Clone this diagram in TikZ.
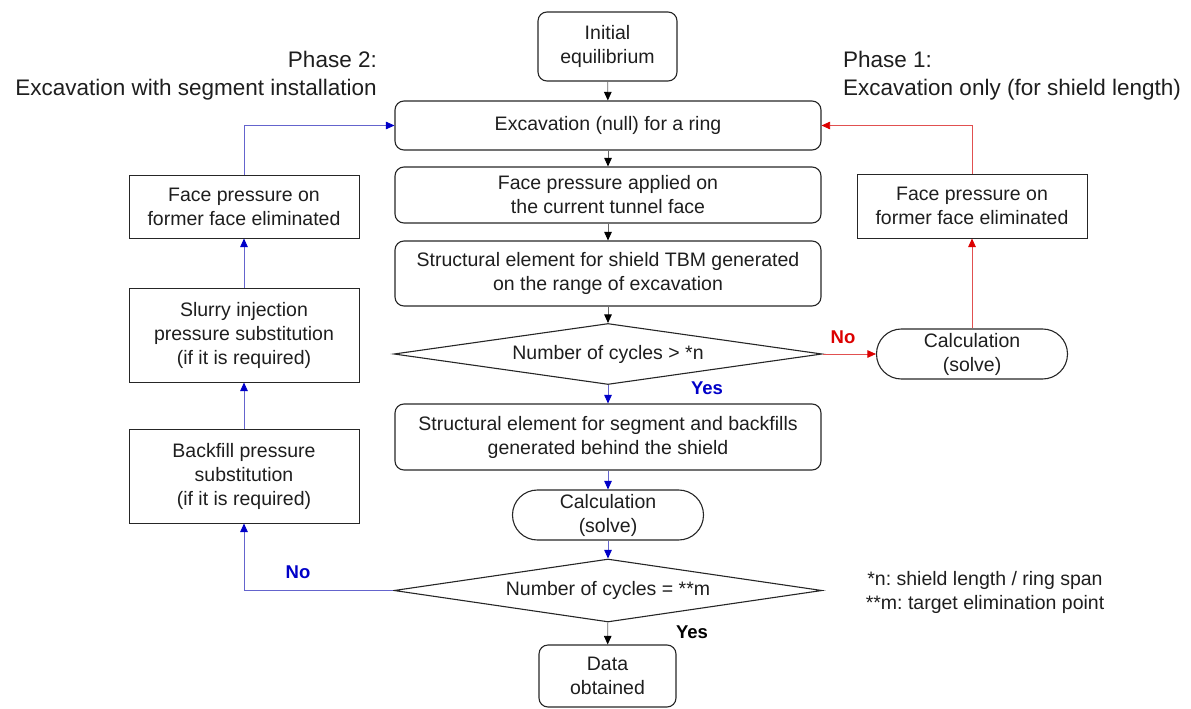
\documentclass[tikz,border=0pt]{standalone}
\usepackage{fontspec}
\setmainfont{Liberation Sans}
\usetikzlibrary{arrows.meta,shapes.geometric}
\definecolor{tblue}{RGB}{0,0,200}
\definecolor{tred}{RGB}{220,0,0}
\definecolor{lblue}{RGB}{100,100,205}
\definecolor{lred}{RGB}{225,80,80}
\definecolor{txt}{RGB}{30,30,30}
\frenchspacing
\newcommand{\mainfs}{\fontsize{19.5}{24}\selectfont}
\newcommand{\phasefs}{\fontsize{22.5}{28}\selectfont}
\newcommand{\labfs}{\fontsize{18.5}{22}\selectfont\bfseries}
\tikzset{
  rbox/.style={draw=black!85, line width=1.1pt, rounded corners=9pt, align=center,
    font=\mainfs, text=txt, inner sep=0pt},
  wbox/.style={rbox, minimum width=426pt},
  sbox/.style={draw=black!85, line width=1pt, align=center, font=\mainfs, text=txt,
    minimum width=230pt, inner sep=0pt},
  term/.style={draw=black!85, line width=1.1pt, rounded corners=24.9pt, align=center,
    font=\mainfs, text=txt, minimum width=191pt, minimum height=50pt, inner sep=0pt},
  decision/.style={diamond, draw=black!85, line width=1.1pt, shape aspect=7.1,
    minimum width=428pt, minimum height=61pt, inner sep=0pt, font=\mainfs, text=txt},
  karr/.style={draw=black!60, line width=0.8pt, -{Triangle[length=8.5pt,width=7.5pt,color=black]}},
  barr/.style={draw=lblue, line width=0.8pt, -{Triangle[length=8.5pt,width=7.5pt,color=tblue]}},
  rarr/.style={draw=lred, line width=0.8pt, -{Triangle[length=8.5pt,width=7.5pt,color=tred]}},
  phase/.style={font=\phasefs, text=txt, inner sep=0pt},
  lab/.style={font=\labfs, inner sep=0pt}
}
\begin{document}
\begin{tikzpicture}[x=1pt,y=-1pt]
\useasboundingbox (0,0) rectangle (1191,709);
% main column
\node[rbox, minimum width=139pt, minimum height=69pt] (init) at (607.5,46.5) {Initial\\equilibrium};
\node[wbox, minimum height=49pt] (exc) at (608,125.5) {Excavation (null) for a ring};
\node[wbox, minimum height=56pt] (face) at (608,195) {Face pressure applied on\\the current tunnel face};
\node[wbox, minimum height=65pt] (shield) at (608,273.5) {Structural element for shield TBM generated\\on the range of excavation};
\node[decision] (d1) at (608,354) {Number of cycles > *n};
\node[wbox, minimum height=66pt] (seg) at (608,437) {Structural element for segment and backfills\\generated behind the shield};
\node[term] (calc) at (608,515) {Calculation\\(solve)};
\node[decision, minimum height=63pt] (d2) at (608,590.5) {Number of cycles = **m};
\node[rbox, minimum width=137pt, minimum height=62pt] (data) at (607.5,676) {Data\\obtained};
% right column
\node[sbox, minimum height=64pt] (rface) at (972,206) {Face pressure on\\former face eliminated};
\node[term] (rcalc) at (972,354) {Calculation\\(solve)};
% left column
\node[sbox, minimum height=63pt] (lface) at (244,206.5) {Face pressure on\\former face eliminated};
\node[sbox, minimum height=94pt] (slurry) at (244,335) {Slurry injection\\pressure substitution\\(if it is required)};
\node[sbox, minimum height=94pt] (back) at (244,476) {Backfill pressure\\substitution\\(if it is required)};
% phase labels
\node[phase, align=right, anchor=east] (p2) at (377,76) {Phase 2:\\Excavation with segment installation};
\node[phase, align=left, anchor=west] (p1) at (843,76) {Phase 1:\\Excavation only (for shield length)};
\node[font=\mainfs, text=txt, align=center, inner sep=0pt] (notes) at (985,592) {*n: shield length / ring span\\**m: target elimination point};
% labels
\node[lab, text=tblue] (yes1) at (707,388) {Yes};
\node[lab, text=tred] (no1) at (843,337) {No};
\node[lab, text=tblue] (no2) at (298,572) {No};
\node[lab, text=black] (yes2) at (692,632) {Yes};
% connectors
\draw[karr] (init) -- (exc);
\draw[karr] (exc) -- (face);
\draw[karr] (face) -- (shield);
\draw[karr] (shield) -- (d1);
\draw[barr] (d1) -- (seg);
\draw[barr] (seg) -- (calc);
\draw[barr] (calc) -- (d2);
\draw[karr] (d2) -- (data);
\draw[rarr] (d1.east) -- (rcalc.west);
\draw[rarr] (rcalc) -- (rface);
\draw[rarr] (rface.north) |- (exc.east);
\draw[barr] (d2.west) -| (back.south);
\draw[barr] (back) -- (slurry);
\draw[barr] (slurry) -- (lface);
\draw[barr] (lface.north) |- (exc.west);
\end{tikzpicture}
\end{document}
